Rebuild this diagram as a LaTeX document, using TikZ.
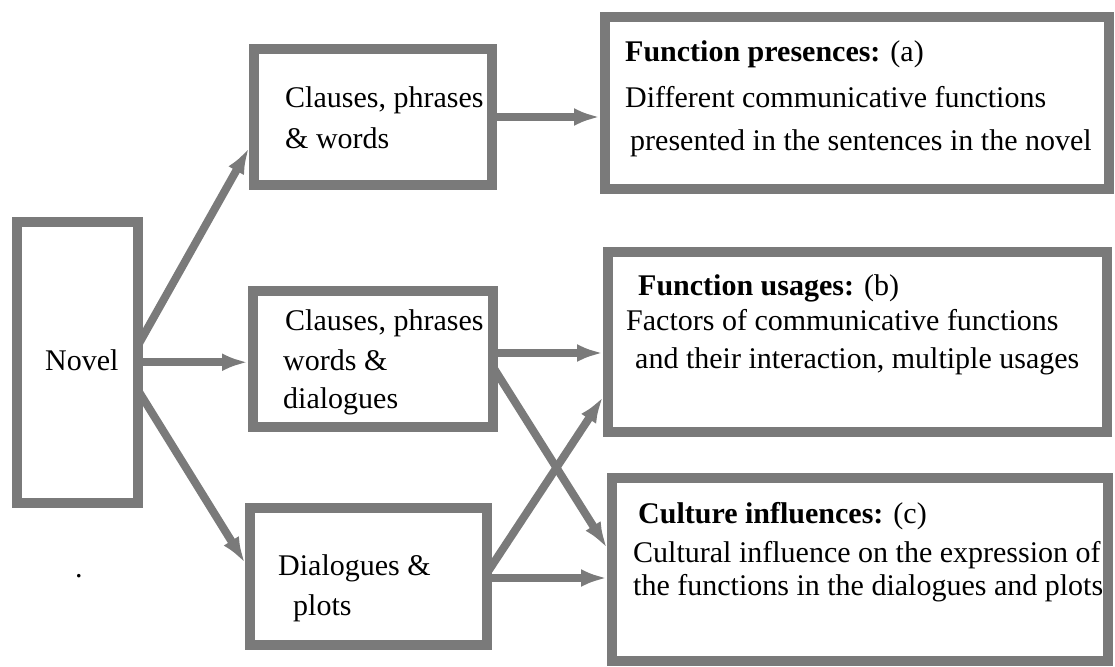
\documentclass[tikz,border=0pt]{standalone}
\usepackage{fontspec}
\setmainfont{Liberation Serif}
\usetikzlibrary{arrows.meta}
\definecolor{boxgray}{RGB}{122,122,122}
\begin{document}
\begin{tikzpicture}[x=1pt,y=-1pt,
  box/.style={draw=boxgray, line width=10pt, inner sep=0pt},
  arr/.style={draw=boxgray, line width=8pt, -{Latex[length=26pt,width=18pt]}},
  txt/.style={anchor=base west, inner sep=0pt, font=\fontsize{30}{36}\selectfont}]
\useasboundingbox (0,0) rectangle (1115,666);

% boxes
\node[box, minimum width=121.5pt, minimum height=280.5pt] (novel) at (77.25,362.25) {};
\node[box, minimum width=238pt, minimum height=136pt] (b1) at (373,117) {};
\node[box, minimum width=240pt, minimum height=136pt] (b2) at (373,359) {};
\node[box, minimum width=237pt, minimum height=137pt] (b3) at (368.5,576.5) {};
\node[box, minimum width=504pt, minimum height=172pt] (ba) at (857,103) {};
\node[box, minimum width=499pt, minimum height=180pt] (bb) at (857.5,342) {};
\node[box, minimum width=496pt, minimum height=183pt] (bc) at (860,569.5) {};

% texts
\node[txt] (tnovel) at (45,370) {Novel};
\node[txt] (t1a) at (285,108) {Clauses, phrases};
\node[txt] (t1b) at (285,148) {\& words};
\node[txt] (t2a) at (285,330) {Clauses, phrases};
\node[txt] (t2b) at (283,370) {words \&};
\node[txt] (t2c) at (283,408) {dialogues};
\node[txt] (t3a) at (278,575) {Dialogues \&};
\node[txt] (t3b) at (293,615) {plots};
\node[txt] (tdot) at (75,577) {.};

\node[txt] (taa) at (625,62) {\textbf{Function presences:} (a)};
\node[txt] (tab) at (625,108) {Different communicative functions};
\node[txt] (tac) at (630,150) {presented in the sentences in the novel};

\node[txt] (tba) at (638,295) {\textbf{Function usages:} (b)};
\node[txt] (tbb) at (626,330) {Factors of communicative functions};
\node[txt] (tbc) at (635,368) {and their interaction, multiple usages};

\node[txt] (tca) at (638,523) {\textbf{Culture influences:} (c)};
\node[txt] (tcb) at (633,562) {Cultural influence on the expression of};
\node[txt] (tcc) at (633,595) {the functions in the dialogues and plots};

% connector start points
\coordinate (s1) at ([xshift=-5pt,yshift=17pt]novel.east);
\coordinate (s2) at ([xshift=-5pt]novel.east);
\coordinate (s3) at ([xshift=-5pt,yshift=-28pt]novel.east);
\coordinate (s4) at ([xshift=-5pt]b1.east);
\coordinate (s5) at ([xshift=-5pt,yshift=6pt]b2.east);
\coordinate (s6) at ([xshift=-5pt,yshift=-8pt]b2.east);
\coordinate (s7) at ([xshift=-5pt,yshift=3.5pt]b3.east);
\coordinate (s8) at ([xshift=-5pt,yshift=-1.5pt]b3.east);

% connectors
\draw[arr] (s1) -- ([yshift=-31pt]b1.west);
\draw[arr] (s2) -- (s2 -| b2.west);
\draw[arr] (s3) -- ([yshift=13.5pt]b3.west);
\draw[arr] (s4) -- (s4 -| ba.west);
\draw[arr] (s5) -- (s5 -| bb.west);
\draw[arr] (s6) -- ([yshift=21.5pt]bc.west);
\draw[arr] (s7) -- ([yshift=-55pt]bb.west);
\draw[arr] (s8) -- (s8 -| bc.west);
\end{tikzpicture}
\end{document}
